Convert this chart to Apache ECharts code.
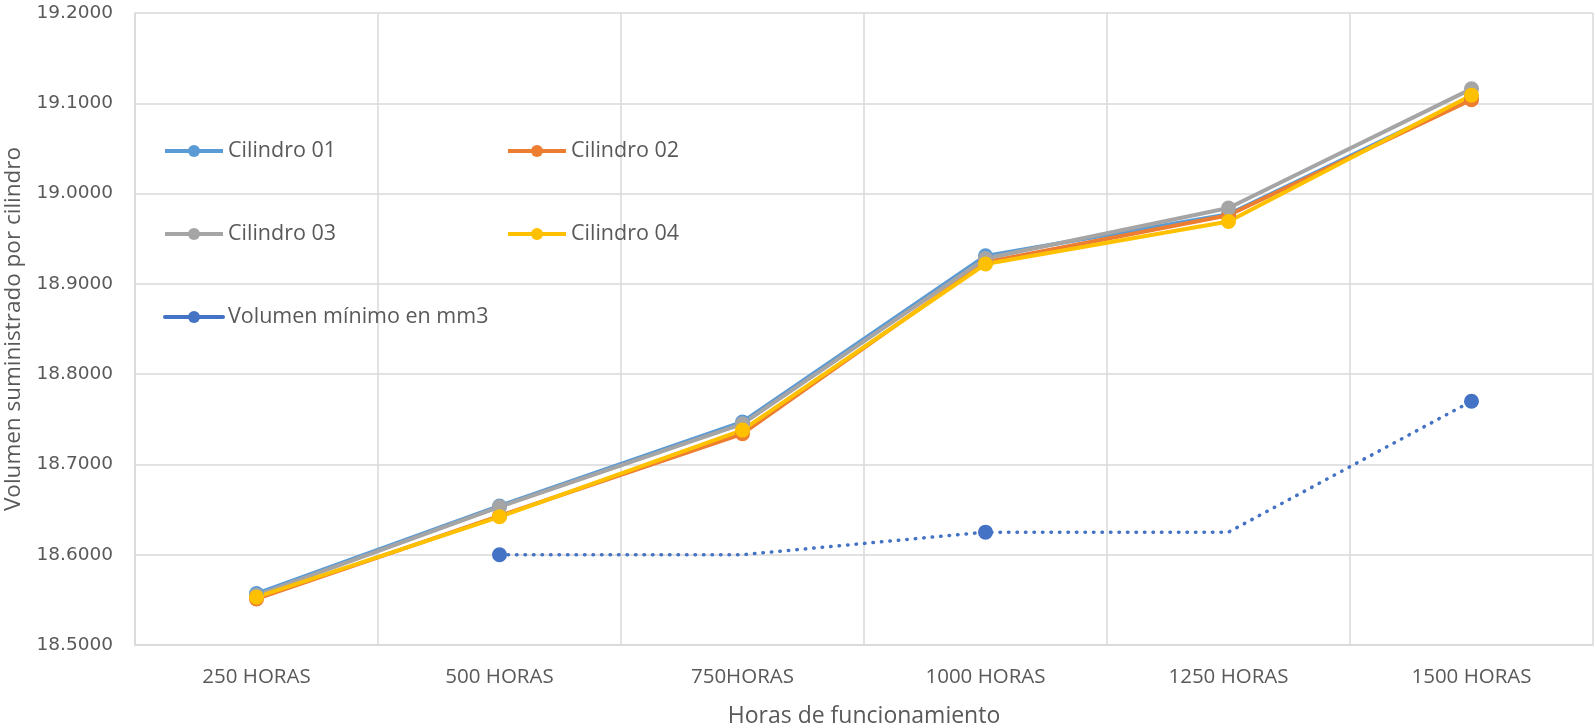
<!DOCTYPE html>
<html><head><meta charset="utf-8">
<script src="https://cdn.jsdelivr.net/npm/echarts@6/dist/echarts.min.js"></script>
<style>html,body{margin:0;padding:0;background:#fff}#c{width:1595px;height:728px}</style>
</head><body><div id="c"></div>
<script>
const categories = ['250 HORAS','500 HORAS','750HORAS','1000 HORAS','1250 HORAS','1500 HORAS'];
const cil01 = [18.557, 18.654, 18.747, 18.931, 18.977, 19.106];
const cil02 = [18.551, 18.643, 18.734, 18.924, 18.976, 19.104];
const cil03 = [18.555, 18.653, 18.745, 18.928, 18.984, 19.116];
const cil04 = [18.553, 18.642, 18.738, 18.922, 18.969, 19.109];
const volMin = [null, 18.600, 18.600, 18.625, 18.625, 18.770];
const volMinMarkers = [false, true, false, true, false, true];
const yTicks = {min: 18.5, max: 19.2, interval: 0.1};

const font = '"Open Sans", "Noto Sans", sans-serif';
const txt = '#595959';
function lineSeries(name, data, color) {
  return {name, type:'line', data, symbol:'circle', symbolSize:15,
    lineStyle:{width:4, color}, itemStyle:{color}, z:3};
}
const legendCommon = {orient:'vertical', top:135, itemGap:61, itemWidth:58, itemHeight:15,
  lineStyle:{type:'solid', width:4},
  textStyle:{fontFamily:font, fontSize:21.5, color:txt}};
const chart = echarts.init(document.getElementById('c'), null, {renderer:'canvas'});
chart.setOption({
  animation:false,
  grid:{left:135, right:2, top:13, bottom:83, outerBoundsMode:'none', containLabel:false},
  legend:[
    Object.assign({data:['Cilindro 01','Cilindro 03','Volumen mínimo en mm3'], left:158}, legendCommon),
    Object.assign({data:['Cilindro 02','Cilindro 04'], left:501}, legendCommon)
  ],
  xAxis:{type:'category', data:categories, boundaryGap:true,
    name:'Horas de funcionamiento', nameLocation:'middle', nameGap:60, nameMoveOverlap:false,
    nameTextStyle:{fontFamily:font, fontSize:23, color:txt},
    axisLine:{lineStyle:{color:'#d9d9d9', width:1.5}}, axisTick:{show:false},
    axisLabel:{fontFamily:font, fontSize:20.5, color:txt, margin:22},
    splitLine:{show:true, lineStyle:{color:'#d9d9d9', width:1.5}}},
  yAxis:{type:'value', min:yTicks.min, max:yTicks.max, interval:yTicks.interval,
    name:'Volumen suministrado por cilindro', nameLocation:'middle', nameGap:110, nameMoveOverlap:false,
    nameTextStyle:{fontFamily:font, fontSize:22.5, color:txt},
    axisLine:{show:true, lineStyle:{color:'#d9d9d9', width:1.5}}, axisTick:{show:false},
    axisLabel:{fontFamily:'"DejaVu Sans", sans-serif', fontSize:18.5, color:txt, margin:22, formatter:v=>v.toFixed(4)},
    splitLine:{show:true, lineStyle:{color:'#d9d9d9', width:1.5}}},
  series:[
    lineSeries('Cilindro 01', cil01, '#5B9BD5'),
    lineSeries('Cilindro 02', cil02, '#ED7D31'),
    lineSeries('Cilindro 03', cil03, '#A5A5A5'),
    lineSeries('Cilindro 04', cil04, '#FFC000'),
    {name:'Volumen mínimo en mm3', type:'line', symbol:'circle', symbolSize:15,
     data: volMin.map((v,i)=>({value:v, symbol: volMinMarkers[i] ? 'circle' : 'none'})),
     lineStyle:{width:3.5, type:[0.5,8], cap:'round', color:'#4472C4'}, itemStyle:{color:'#4472C4'}, z:4}
  ]
});
</script></body></html>
